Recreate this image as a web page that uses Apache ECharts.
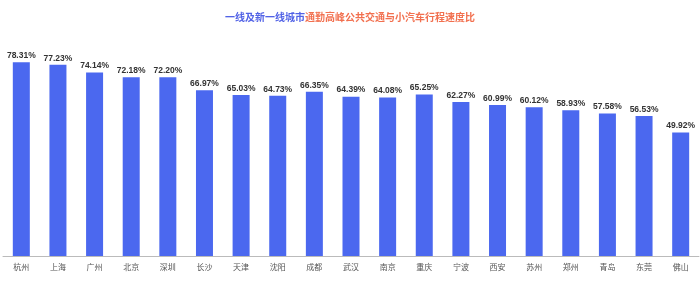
<!DOCTYPE html>
<html><head><meta charset="utf-8">
<script src="https://cdn.jsdelivr.net/npm/echarts@6/dist/echarts.min.js"></script>
<style>html,body{margin:0;padding:0;background:#fff}#c{width:700px;height:282px}</style>
</head><body><div id="c"></div>
<script>
const categories = ['杭州','上海','广州','北京','深圳','长沙','天津','沈阳','成都','武汉','南京','重庆','宁波','西安','苏州','郑州','青岛','东莞','佛山'];
const values = [78.31,77.23,74.14,72.18,72.20,66.97,65.03,64.73,66.35,64.39,64.08,65.25,62.27,60.99,60.12,58.93,57.58,56.53,49.92];
const chart = echarts.init(document.getElementById('c'));
chart.setOption({
  animation: false,
  title: {
    text: '{a|一线及新一线城市}{b|通勤高峰公共交通与小汽车行程速度比}',
    left: 'center', top: 7,
    textStyle: {
      rich: {
        a: {color: '#5162e6', fontSize: 10, fontWeight: 'bold', fontFamily: 'Noto Sans CJK SC'},
        b: {color: '#f2704f', fontSize: 10, fontWeight: 'bold', fontFamily: 'Noto Sans CJK SC'}
      }
    }
  },
  grid: {left: 3, right: 1, top: 58, bottom: 26},
  xAxis: {
    type: 'category', data: categories,
    axisLine: {lineStyle: {color: '#bbbbbb'}},
    axisTick: {show: false},
    axisLabel: {color: '#555', fontSize: 8, margin: 7, fontFamily: 'Noto Sans CJK SC'}
  },
  yAxis: {type: 'value', min: 0, max: 80, show: false, splitLine: {show: false}},
  series: [{
    type: 'bar', data: values, barWidth: 17,
    itemStyle: {color: '#4b68ef'},
    label: {show: true, position: 'top', distance: 2, formatter: p => p.value.toFixed(2) + '%',
      color: '#333', fontSize: 8.5, fontWeight: 'bold', fontFamily: 'Liberation Sans'}
  }]
});
</script></body></html>
